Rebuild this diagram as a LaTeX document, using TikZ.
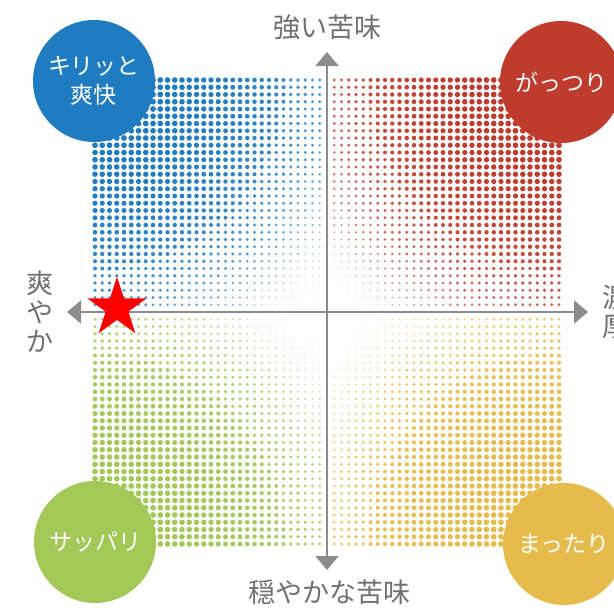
\documentclass[tikz,border=0pt]{standalone}
\usepackage{fontspec}
\setmainfont{Noto Sans CJK JP}
\usepackage{xcolor}
\usepackage{tikz}
\usetikzlibrary{arrows.meta}
\usetikzlibrary{shapes.geometric}

\definecolor{kiriblue}{HTML}{1F7CC1}
\definecolor{gatsured}{HTML}{BE3B2D}
\definecolor{sappgreen}{HTML}{A2C857}
\definecolor{mattyellow}{HTML}{E5BC4C}
\definecolor{axisgray}{HTML}{8C8C8C}
\definecolor{labelgray}{HTML}{707070}

\begin{document}
\begin{tikzpicture}[x=1pt,y=-1pt]%%taste map
                \tikzstyle{taste}     = [circle, minimum size=122pt, inner sep=0pt, text=white, align=center, font=\fontsize{23}{29}\selectfont]
                \tikzstyle{axis}      = [draw=axisgray, line width=2pt, -{Triangle[length=14pt,width=23pt]}]
                \tikzstyle{axislabel} = [text=labelgray, inner sep=0pt, align=center, font=\fontsize{27}{29}\selectfont]
                \useasboundingbox (0,0) rectangle (614,608);
                \coordinate (o) at (327,312);
                % halftone dots, one quadrant at a time
                \foreach \sx/\sy/\col in {-1/-1/kiriblue, 1/-1/gatsured, -1/1/sappgreen, 1/1/mattyellow}
                {
                        \foreach \i in {1,...,32}
                        {
                                \foreach \j in {1,...,32}
                                {
                                        \pgfmathsetmacro{\dott}{sqrt((32-\i)^2+(32-\j)^2)/45.25}
                                        \pgfmathsetmacro{\dotr}{3.0*(1-\dott*\dott)}
                                        \pgfmathsetmacro{\dotop}{100*(1-\dott^4)}
                                        \fill[\col!\dotop!white] (327+\sx*\i*7.25, 312+\sy*\j*7.25) circle (\dotr pt);
                                }
                        }
                }
                \coordinate (w) at (67,312);
                \coordinate (e) at (588,312);
                \coordinate (n) at (327,52);
                \coordinate (s) at (327,570);
                \draw[axis] (o) -- (w);
                \draw[axis] (o) -- (e);
                \draw[axis] (o) -- (n);
                \draw[axis] (o) -- (s);
                \node[axislabel](strong) at (327,27) {強い苦味};
                \node[axislabel](mild) at (329,592) {穏やかな苦味};
                \node[axislabel](fresh) at (40,312) {爽\\や\\か};
                \node[axislabel](rich) at (616,312) {濃\\厚};
                \node[taste, fill=kiriblue](kiri) at (94,81) {キリッと\\爽快};
                \node[taste, fill=gatsured](gatsu) at (561,82) {がっつり};
                \node[taste, fill=sappgreen](sappa) at (95,542) {サッパリ};
                \node[taste, fill=mattyellow](matta) at (564,544) {まったり};
                \node[star, star points=5, star point ratio=2.618, minimum size=62.4pt, inner sep=0pt, fill=red](pick) at (117,308) {};
\end{tikzpicture}
\end{document}
